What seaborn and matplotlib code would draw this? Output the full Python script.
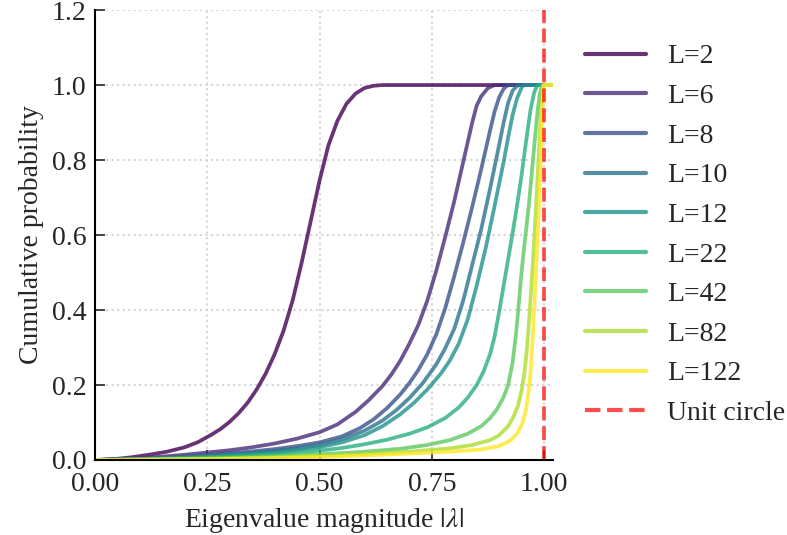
import numpy as np
import pandas as pd
import matplotlib
matplotlib.use("Agg")
import matplotlib.pyplot as plt
import seaborn as sns

# Cumulative distribution of eigenvalue magnitudes for each depth L
L_values = [2, 6, 8, 10, 12, 22, 42, 82, 122]

x_L2 = [0, 0.04, 0.08, 0.12, 0.16, 0.20, 0.23, 0.26, 0.28, 0.30, 0.32, 0.34, 0.36, 0.38,
        0.40, 0.42, 0.44, 0.46, 0.48, 0.50, 0.52, 0.54, 0.56, 0.58, 0.60, 0.62, 0.64, 1.02]
y_L2 = [0, 0.002, 0.007, 0.014, 0.022, 0.034, 0.048, 0.068, 0.083, 0.102, 0.125, 0.153, 0.188, 0.230,
        0.282, 0.345, 0.425, 0.525, 0.635, 0.745, 0.840, 0.905, 0.950, 0.977, 0.992, 0.998, 1.0, 1.0]

x_L6 = [0, 0.05, 0.10, 0.15, 0.20, 0.25, 0.30, 0.35, 0.40, 0.45, 0.50, 0.54, 0.58, 0.61, 0.64,
        0.66, 0.68, 0.70, 0.72, 0.74, 0.76, 0.78, 0.80, 0.82, 0.84, 0.85, 0.86, 0.875, 0.89, 1.02]
y_L6 = [0, 0.002, 0.005, 0.009, 0.014, 0.020, 0.026, 0.034, 0.044, 0.057, 0.074, 0.095, 0.128, 0.160, 0.197,
        0.228, 0.265, 0.310, 0.360, 0.425, 0.505, 0.595, 0.690, 0.795, 0.900, 0.945, 0.970, 0.992, 1.0, 1.0]

x_L8 = [0, 0.05, 0.10, 0.15, 0.20, 0.25, 0.30, 0.35, 0.40, 0.45, 0.50, 0.55, 0.59, 0.62, 0.65,
        0.68, 0.70, 0.72, 0.74, 0.76, 0.78, 0.80, 0.82, 0.84, 0.86, 0.88, 0.89, 0.90, 0.91, 0.92, 1.02]
y_L8 = [0, 0.0015, 0.003, 0.006, 0.009, 0.013, 0.018, 0.023, 0.029, 0.037, 0.047, 0.063, 0.085, 0.108, 0.138,
        0.175, 0.205, 0.240, 0.282, 0.335, 0.405, 0.490, 0.580, 0.675, 0.775, 0.880, 0.930, 0.967, 0.990, 1.0, 1.0]

x_L10 = [0, 0.05, 0.10, 0.15, 0.20, 0.25, 0.30, 0.35, 0.40, 0.45, 0.50, 0.55, 0.60, 0.64, 0.67,
         0.70, 0.73, 0.76, 0.78, 0.80, 0.82, 0.84, 0.86, 0.88, 0.90, 0.91, 0.92, 0.93, 0.94, 0.945, 1.02]
y_L10 = [0, 0.0013, 0.0027, 0.005, 0.008, 0.011, 0.015, 0.019, 0.024, 0.031, 0.040, 0.055, 0.078, 0.105, 0.132,
         0.165, 0.205, 0.255, 0.298, 0.350, 0.425, 0.520, 0.615, 0.725, 0.840, 0.900, 0.952, 0.985, 0.998, 1.0, 1.0]

x_L12 = [0, 0.05, 0.10, 0.15, 0.20, 0.25, 0.30, 0.35, 0.40, 0.45, 0.50, 0.55, 0.60, 0.64, 0.68,
         0.71, 0.74, 0.77, 0.79, 0.81, 0.83, 0.85, 0.87, 0.89, 0.91, 0.92, 0.93, 0.94, 0.95, 0.955, 1.02]
y_L12 = [0, 0.001, 0.002, 0.004, 0.006, 0.009, 0.012, 0.016, 0.020, 0.026, 0.034, 0.047, 0.066, 0.090, 0.122,
         0.152, 0.188, 0.230, 0.265, 0.310, 0.375, 0.465, 0.565, 0.678, 0.795, 0.860, 0.920, 0.965, 0.993, 1.0, 1.0]

x_L22 = [0, 0.05, 0.10, 0.15, 0.20, 0.25, 0.30, 0.35, 0.40, 0.45, 0.50, 0.55, 0.60, 0.65, 0.70,
         0.74, 0.78, 0.81, 0.83, 0.85, 0.865, 0.88, 0.89, 0.90, 0.91, 0.92, 0.93, 0.94, 0.95, 0.96,
         0.97, 0.978, 0.984, 0.988, 1.02]
y_L22 = [0, 0.001, 0.002, 0.0035, 0.005, 0.007, 0.010, 0.013, 0.016, 0.020, 0.025, 0.032, 0.042, 0.054, 0.070,
         0.087, 0.112, 0.140, 0.166, 0.200, 0.235, 0.283, 0.330, 0.395, 0.465, 0.535, 0.605, 0.680, 0.760, 0.850,
         0.935, 0.980, 0.997, 1.0, 1.0]

x_L42 = [0, 0.10, 0.20, 0.30, 0.40, 0.50, 0.60, 0.68, 0.74, 0.79, 0.83, 0.86, 0.88, 0.895, 0.91,
         0.92, 0.93, 0.937, 0.943, 0.949, 0.955, 0.961, 0.967, 0.973, 0.978, 0.983, 0.987, 0.991,
         0.994, 0.997, 1.02]
y_L42 = [0, 0.001, 0.003, 0.006, 0.010, 0.015, 0.022, 0.030, 0.040, 0.053, 0.070, 0.090, 0.112, 0.135, 0.168,
         0.200, 0.260, 0.330, 0.405, 0.490, 0.560, 0.625, 0.690, 0.770, 0.835, 0.900, 0.945, 0.978,
         0.994, 1.0, 1.0]

x_L82 = [0, 0.10, 0.20, 0.30, 0.40, 0.50, 0.60, 0.70, 0.79, 0.84, 0.88, 0.90, 0.92, 0.932, 0.942,
         0.950, 0.956, 0.961, 0.965, 0.969, 0.973, 0.977, 0.981, 0.985, 0.988, 0.991, 0.994, 0.997,
         0.999, 1.02]
y_L82 = [0, 0.001, 0.002, 0.004, 0.007, 0.011, 0.016, 0.022, 0.031, 0.040, 0.053, 0.066, 0.090, 0.115, 0.145,
         0.185, 0.230, 0.285, 0.345, 0.415, 0.485, 0.565, 0.650, 0.740, 0.810, 0.880, 0.945, 0.990,
         1.0, 1.0]

x_L122 = [0, 0.10, 0.20, 0.30, 0.40, 0.50, 0.60, 0.70, 0.80, 0.86, 0.90, 0.925, 0.94, 0.952, 0.960,
          0.966, 0.971, 0.975, 0.979, 0.983, 0.987, 0.990, 0.993, 0.996, 0.998, 1.0, 1.02]
y_L122 = [0, 0.001, 0.002, 0.003, 0.005, 0.008, 0.012, 0.017, 0.023, 0.028, 0.037, 0.052, 0.070, 0.098, 0.135,
          0.185, 0.250, 0.330, 0.430, 0.530, 0.630, 0.720, 0.820, 0.930, 0.990, 1.0, 1.0]

curves = {
    2: (x_L2, y_L2), 6: (x_L6, y_L6), 8: (x_L8, y_L8), 10: (x_L10, y_L10),
    12: (x_L12, y_L12), 22: (x_L22, y_L22), 42: (x_L42, y_L42),
    82: (x_L82, y_L82), 122: (x_L122, y_L122),
}

frames = []
for L in L_values:
    xs, ys = curves[L]
    frames.append(pd.DataFrame({"mag": xs, "cdf": ys, "L": f"L={L}"}))
df = pd.concat(frames, ignore_index=True)

sns.set_style("ticks")
plt.rcParams["font.family"] = ["Liberation Serif", "DejaVu Serif"]
plt.rcParams["mathtext.fontset"] = "stix"

colors = [matplotlib.colormaps["viridis"](t) for t in np.linspace(0, 1, len(L_values))]
hue_order = [f"L={L}" for L in L_values]

fig = plt.figure(figsize=(7.87, 5.35), dpi=100)
ax = fig.add_axes([0.1207, 0.1402, 0.582, 0.841])

sns.lineplot(data=df, x="mag", y="cdf", hue="L", hue_order=hue_order,
             palette=colors, estimator=None, sort=False, linewidth=2.7,
             alpha=0.8, ax=ax)
ax.axvline(1.0, color="red", linestyle="--", linewidth=2.7, alpha=0.7,
           label="Unit circle")

ax.set_xlim(0, 1.02)
ax.set_ylim(0, 1.2)
ax.set_xticks([0, 0.25, 0.5, 0.75, 1.0])
ax.set_xticklabels(["0.00", "0.25", "0.50", "0.75", "1.00"])
ax.set_yticks(np.arange(0, 1.21, 0.2))
ax.set_yticklabels([f"{v:.1f}" for v in np.arange(0, 1.21, 0.2)])
ax.tick_params(direction="in", length=7, width=1.2, labelsize=20)
ax.tick_params(axis="y", pad=6)
ax.tick_params(axis="x", pad=9)
ax.grid(True, linestyle=":", color="#cccccc", linewidth=1.5, alpha=0.8)
ax.set_axisbelow(True)
for side in ("top", "right"):
    ax.spines[side].set_visible(False)
for side in ("left", "bottom"):
    ax.spines[side].set_linewidth(1.5)
    ax.spines[side].set_color("black")

ax.set_xlabel(r"Eigenvalue magnitude $|\lambda|$", fontsize=20, labelpad=6)
ax.set_ylabel("Cumulative probability", fontsize=20, labelpad=6)

handles, labels = ax.get_legend_handles_labels()
leg = ax.legend(handles, labels, loc="center left", bbox_to_anchor=(1.015, 0.50),
                frameon=False, fontsize=20, handlelength=2.2, labelspacing=0.51,
                handletextpad=0.75)
for h in leg.legend_handles:
    h.set_linewidth(3.0)

fig.savefig("out.png", dpi=100)
